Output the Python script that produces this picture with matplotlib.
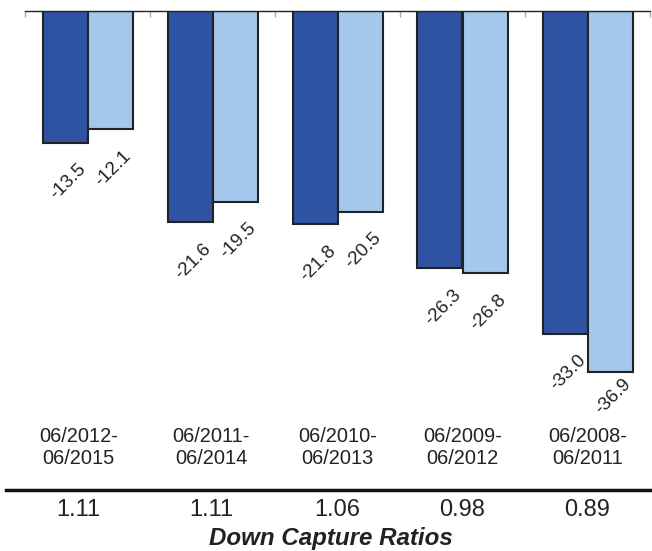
import matplotlib.pyplot as plt
import numpy as np
from matplotlib.lines import Line2D
from matplotlib.transforms import blended_transform_factory

plt.rcParams['font.family'] = ['Liberation Sans', 'DejaVu Sans']

# data
periods = ['06/2012-\n06/2015', '06/2011-\n06/2014', '06/2010-\n06/2013',
           '06/2009-\n06/2012', '06/2008-\n06/2011']
fund = [-13.5, -21.6, -21.8, -26.3, -33.0]
index = [-12.1, -19.5, -20.5, -26.8, -36.9]
ratios = ['1.11', '1.11', '1.06', '0.98', '0.89']

DARK = '#2E53A3'
LIGHT = '#A3C8EB'
EDGE = '#222222'

fig = plt.figure(figsize=(6.52, 5.51), dpi=100)
# axes: x from 25px to 650px, y top at 11px
ax = fig.add_axes([25 / 652, 1 - 400 / 551, 625 / 652, 389 / 551])

x = np.arange(len(periods))
w = 0.36
b1 = ax.bar(x - w / 2, fund, w, color=DARK, edgecolor=EDGE, linewidth=1.5, zorder=3)
b2 = ax.bar(x + w / 2, index, w, color=LIGHT, edgecolor=EDGE, linewidth=1.5, zorder=3)

ax.set_xlim(-0.5, len(periods) - 0.5)
ax.set_ylim(-39.74, 0)
for s in ['left', 'right', 'bottom']:
    ax.spines[s].set_visible(False)
ax.spines['top'].set_color('#222222')
ax.spines['top'].set_linewidth(1.0)
ax.spines['top'].set_zorder(4)
ax.set_yticks([])
ax.xaxis.set_ticks_position('top')
ax.set_xticks(np.arange(len(periods) + 1) - 0.5)
ax.set_xticklabels([])
ax.tick_params(axis='x', direction='in', length=4, width=1, color='#aaaaaa')

# value labels, kept inside the plot area like the original
for bars in (b1, b2):
    for bar in bars:
        v = bar.get_height()
        ax.text(bar.get_x() + bar.get_width() / 2 + 0.024, max(v - 3.98, -39.4),
                f'{v:.1f}', rotation=45, ha='center', va='center',
                fontsize=13.5, color='#222222')

# period labels and ratios below (the text table sits a bit left of the bars)
tr = blended_transform_factory(ax.transData, fig.transFigure)
col_shift = [-0.072, -0.01, 0.0, 0.0, 0.0]
for i, p in enumerate(periods):
    ax.text(i + col_shift[i], 1 - 447 / 551, p, transform=tr, ha='center', va='center',
            fontsize=14.4, color='#222222', linespacing=1.2)
    ax.text(i + col_shift[i], 1 - 510 / 551, ratios[i], transform=tr, ha='center',
            va='center', fontsize=17, color='#222222')

fig.add_artist(Line2D([6 / 652, 1.0], [1 - 490 / 551] * 2, color='#111111',
                      linewidth=2.5, transform=fig.transFigure))
fig.text(331 / 652, 1 - 538 / 551, 'Down Capture Ratios', ha='center', va='center',
         fontsize=17.4, fontweight='bold', fontstyle='italic', color='#222222')

fig.savefig('out.png', dpi=100)
